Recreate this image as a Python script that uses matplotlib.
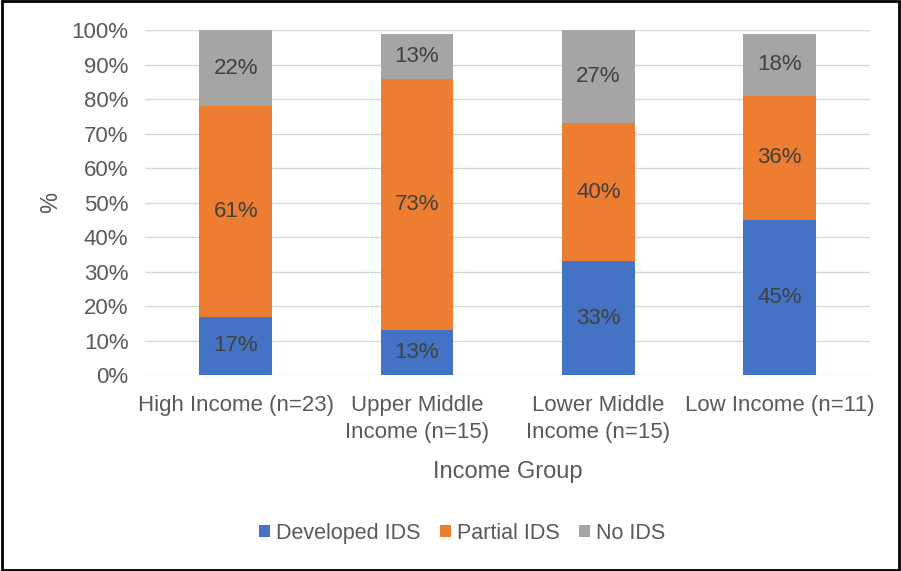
import numpy as np
import matplotlib.pyplot as plt
from matplotlib.patches import Rectangle

plt.rcParams['font.family'] = ['Liberation Sans', 'DejaVu Sans']

groups = ['High Income (n=23)', 'Upper Middle\nIncome (n=15)',
          'Lower Middle\nIncome (n=15)', 'Low Income (n=11)']
developed = [17, 13, 33, 45]
partial = [61, 73, 40, 36]
no_ids = [22, 13, 27, 18]
series_names = ['Developed IDS', 'Partial IDS', 'No IDS']
colors = ['#4472c4', '#ed7d31', '#a5a5a5']

fig = plt.figure(figsize=(9.01, 5.71), dpi=100)
ax = fig.add_axes([0.161, 0.343, 0.805, 0.604])

x = np.arange(len(groups))
bottom = np.zeros(len(groups))
for vals, name, col in zip([developed, partial, no_ids], series_names, colors):
    vals = np.array(vals, dtype=float)
    bars = ax.bar(x, vals, 0.4, bottom=bottom, color=col, label=name, zorder=2)
    for b, v, b0 in zip(bars, vals, bottom):
        ax.text(b.get_x() + b.get_width() / 2, b0 + v / 2, f'{int(v)}%',
                ha='center', va='center', fontsize=16, color='#404040', zorder=3)
    bottom += vals

ax.set_xlim(-0.5, len(groups) - 0.5)
ax.set_ylim(0, 100)
ax.set_yticks(np.arange(0, 101, 10))
ax.set_yticklabels([f'{v}%' for v in range(0, 101, 10)])
ax.yaxis.grid(True, color='#d9d9d9', linewidth=1, zorder=0)
ax.set_axisbelow(True)
for s in ax.spines.values():
    s.set_visible(False)
ax.tick_params(axis='both', length=0, labelsize=16, colors='#595959')
ax.tick_params(axis='y', pad=12)
ax.tick_params(axis='x', pad=14)
ax.set_xticks(x)
ax.set_xticklabels(groups, linespacing=1.4)
ax.set_xlabel('Income Group', fontsize=17, color='#595959', labelpad=13)
ax.set_ylabel('%', fontsize=17, color='#595959', labelpad=7)

ax.legend(loc='center', bbox_to_anchor=(0.513, 0.066), bbox_transform=fig.transFigure,
          ncol=3, frameon=False, fontsize=15.5, handlelength=0.5, handleheight=0.5,
          handletextpad=0.3, columnspacing=0.9, labelcolor='#595959')

# frame around the whole figure
fig.patches.append(Rectangle((0.002, 0.002), 0.996, 0.996, transform=fig.transFigure,
                             fill=False, edgecolor='black', linewidth=2))

fig.savefig('out.png', dpi=100)
